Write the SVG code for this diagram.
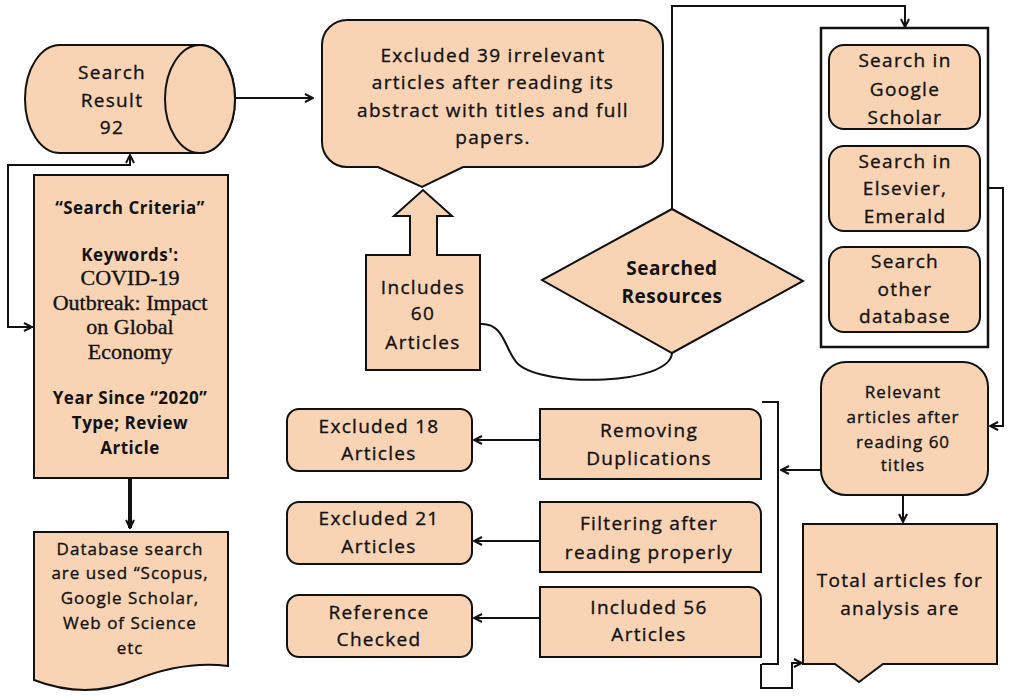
<svg xmlns="http://www.w3.org/2000/svg" width="1013" height="700" viewBox="0 0 1013 700">
<style>
.n{fill:#F9D4B4;stroke:#111;stroke-width:2}
.c{fill:none;stroke:#111;stroke-width:2}
.t{font-family:"Open Sans",sans-serif;font-size:19px;letter-spacing:1.3px;text-anchor:middle;fill:#111;stroke:#111;stroke-width:0.35px}
.sm{font-size:17px;letter-spacing:1px}
.b{font-weight:bold;letter-spacing:0.5px;stroke-width:0}
.s{font-family:"Liberation Serif",serif;font-size:22px;letter-spacing:0}
</style>
<defs>
<marker id="a" viewBox="0 0 10 10" refX="9" refY="5" markerWidth="10" markerHeight="10" markerUnits="userSpaceOnUse" orient="auto">
<path d="M1,1 L9,5 L1,9" fill="none" stroke="#111" stroke-width="2"/>
</marker>
</defs>
<g id="connectors">
<path class="c" d="M235,98 H313" marker-end="url(#a)"/>
<path class="c" d="M34,327 H8 V165 H130 V155" marker-end="url(#a)"/>
<path class="c" d="M10,327 H32" marker-end="url(#a)"/>
<path class="c" d="M130,478 V528" style="stroke-width:4" marker-end="url(#a)"/>
<path class="c" d="M480,324 C505,322 505,352 518,364 C545,388 670,385 672,353"/>
<path class="c" d="M672,209 V6 H905 V27" marker-end="url(#a)"/>
<path class="c" d="M980,188 H1003 V426 H990" marker-end="url(#a)"/>
<path class="c" d="M821,470 H781" marker-end="url(#a)"/>
<path class="c" d="M903,495 V522" marker-end="url(#a)"/>
<path class="c" d="M762,402 H778 V664 H762"/>
<path class="c" d="M761,664 V688 H792 V663 H802" marker-end="url(#a)"/>
<path class="c" d="M540,440 H474" marker-end="url(#a)"/>
<path class="c" d="M540,541 H474" marker-end="url(#a)"/>
<path class="c" d="M540,618 H474" marker-end="url(#a)"/>
</g>
<g id="search-result">
<path class="n" d="M60,45 H200 A35,54 0 0 1 200,153 H60 A35,54 0 0 1 60,45 Z"/>
<ellipse class="n" cx="200" cy="99" rx="35" ry="54"/>
<text class="t" x="112" y="79">Search</text>
<text class="t" x="112" y="107">Result</text>
<text class="t" x="112" y="134">92</text>
</g>
<g id="excluded-39">
<path class="n" d="M347,20 H638 A25,25 0 0 1 663,45 V142 A25,25 0 0 1 638,167 H463 L422,187 L378,167 H347 A25,25 0 0 1 322,142 V45 A25,25 0 0 1 347,20 Z"/>
<text class="t" x="493" y="62">Excluded 39 irrelevant</text>
<text class="t" x="493" y="89">articles after reading its</text>
<text class="t" x="493" y="117">abstract with titles and full</text>
<text class="t" x="493" y="144">papers.</text>
</g>
<g id="includes-60">
<path class="n" d="M366,255 H410 V216 H394 L423,190 L452,216 H437 V255 H480 V370 H366 Z"/>
<text class="t" x="423" y="294">Includes</text>
<text class="t" x="423" y="320">60</text>
<text class="t" x="423" y="349">Articles</text>
</g>
<g id="searched-resources">
<path class="n" d="M672,209 L803,281 L672,353 L542,280 Z"/>
<text class="t b" x="672" y="275">Searched</text>
<text class="t b" x="672" y="303">Resources</text>
</g>
<g id="sources-container">
<rect x="821" y="28" width="167" height="319" fill="#fff" stroke="#111" stroke-width="2.5"/>
</g>
<g id="google-scholar">
<rect class="n" x="829" y="45" width="151" height="84" rx="15"/>
<text class="t" x="905" y="67">Search in</text>
<text class="t" x="905" y="96">Google</text>
<text class="t" x="905" y="124">Scholar</text>
</g>
<g id="elsevier">
<rect class="n" x="829" y="146" width="151" height="85" rx="15"/>
<text class="t" x="905" y="168">Search in</text>
<text class="t" x="905" y="195">Elsevier,</text>
<text class="t" x="905" y="223">Emerald</text>
</g>
<g id="other-db">
<rect class="n" x="829" y="247" width="151" height="85" rx="15"/>
<text class="t" x="905" y="268">Search</text>
<text class="t" x="905" y="296">other</text>
<text class="t" x="905" y="323">database</text>
</g>
<g id="relevant">
<rect class="n" x="821" y="362" width="167" height="133" rx="25"/>
<text class="t sm" x="903" y="398">Relevant</text>
<text class="t sm" x="903" y="423">articles after</text>
<text class="t sm" x="903" y="448">reading 60</text>
<text class="t sm" x="903" y="471">titles</text>
</g>
<g id="total">
<path class="n" d="M803,524 H997 V664 H883 L859,682 L835,664 H803 Z"/>
<text class="t" x="900" y="587">Total articles for</text>
<text class="t" x="900" y="615">analysis are</text>
</g>
<g id="removing">
<path class="n" d="M540,409 H749 A12,12 0 0 1 761,421 V479 H540 Z"/>
<text class="t" x="649" y="437">Removing</text>
<text class="t" x="649" y="465">Duplications</text>
</g>
<g id="filtering">
<path class="n" d="M540,502 H749 A12,12 0 0 1 761,514 V572 H540 Z"/>
<text class="t" x="649" y="530">Filtering after</text>
<text class="t" x="649" y="559">reading properly</text>
</g>
<g id="included-56">
<path class="n" d="M540,587 H749 A12,12 0 0 1 761,599 V657 H540 Z"/>
<text class="t" x="649" y="614">Included 56</text>
<text class="t" x="649" y="641">Articles</text>
</g>
<g id="excluded-18">
<rect class="n" x="287" y="409" width="185" height="62" rx="12"/>
<text class="t" x="379" y="433">Excluded 18</text>
<text class="t" x="379" y="460">Articles</text>
</g>
<g id="excluded-21">
<rect class="n" x="287" y="502" width="185" height="62" rx="12"/>
<text class="t" x="379" y="525">Excluded 21</text>
<text class="t" x="379" y="553">Articles</text>
</g>
<g id="reference-checked">
<rect class="n" x="287" y="595" width="185" height="62" rx="12"/>
<text class="t" x="379" y="619">Reference</text>
<text class="t" x="379" y="646">Checked</text>
</g>
<g id="search-criteria">
<rect class="n" x="34" y="175" width="194" height="303"/>
<text class="t b sm" x="130" y="214">“Search Criteria”</text>
<text class="t b sm" x="130" y="261">Keywords':</text>
<text class="t s" x="130" y="285">COVID-19</text>
<text class="t s" x="130" y="310">Outbreak: Impact</text>
<text class="t s" x="130" y="334">on Global</text>
<text class="t s" x="130" y="359">Economy</text>
<text class="t b sm" x="130" y="404">Year Since “2020”</text>
<text class="t b sm" x="130" y="429">Type; Review</text>
<text class="t b sm" x="130" y="454">Article</text>
</g>
<g id="database-search">
<path class="n" d="M34,532 H228 V666 C195,662 165,668 135,680 C100,694 65,692 34,680 Z"/>
<text class="t sm" x="130" y="555">Database search</text>
<text class="t sm" x="130" y="579">are used “Scopus,</text>
<text class="t sm" x="130" y="604">Google Scholar,</text>
<text class="t sm" x="130" y="629">Web of Science</text>
<text class="t sm" x="130" y="654">etc</text>
</g>
</svg>
